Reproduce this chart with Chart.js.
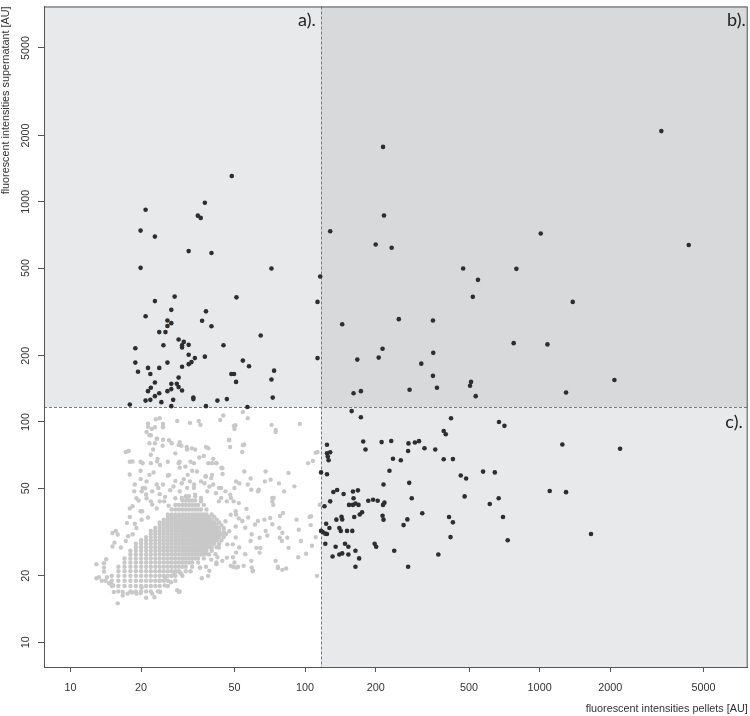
<!DOCTYPE html>
<html><head><meta charset="utf-8">
<script src="https://cdn.jsdelivr.net/npm/chart.js@4/dist/chart.umd.min.js"></script>
<style>html,body{margin:0;padding:0;background:#fff;}</style>
</head><body>
<canvas id="c" width="750" height="716" style="width:750px;height:716px;display:block"></canvas>
<script>
// ---- data ----
const xTicks = [10, 20, 50, 100, 200, 500, 1000, 2000, 5000];
const yTicks = [10, 20, 50, 100, 200, 500, 1000, 2000, 5000];
const axisMin = 7.71, axisMax = 7710;
const threshold = 116.7;
const quadLabels = ['a).', 'b).', 'c).'];
const xTitle = 'fluorescent intensities pellets [AU]';
const yTitle = 'fluorescent intensities supernatant [AU]';

// dark points, quadrant a (low pellet, high supernatant)
const quadA = [[48.7,1309],[37.4,990],[20.9,920],[34.9,865],[35.9,845],[19.9,740],[22.9,695],[31.9,597],[39.9,585],[19.9,501],[71.9,498],[116,458],[113,351],[27.8,371],[22.9,354],[51,368],[37.8,318],[26.9,323],[20.9,302],[25.9,289],[26.9,281],[25.9,273],[36.4,288],[39.9,272],[23.9,256],[25.4,256],[64.7,247],[28.9,237],[30.4,231],[29.9,223],[29.9,218],[31.9,224],[24.9,223],[18.9,216],[44.9,223],[31.9,202],[37.4,198],[113,195],[18.9,186],[25.9,186],[31.9,183],[32.8,187],[33.9,195],[54.3,190],[57.7,179],[21.4,176],[23.9,176],[29.9,178],[19.4,169],[21.9,165],[48.5,165],[49.8,165],[73.8,171],[28.9,159],[71.9,156],[50.8,152],[22.9,151],[26.9,149],[28.4,149],[22,143],[21.4,138],[23.9,135],[25.9,138],[26.9,141],[28.9,144],[29.9,139],[22.9,131],[20.9,125],[21.9,126],[27.4,126],[24.4,123],[33.4,129],[33.4,127],[42.3,125],[46.4,127],[72.8,129],[17.9,120],[26.9,118],[37.8,118],[56.8,117]];
// dark points, quadrant b (high pellet, high supernatant)
const quadB = [[3303,2094],[215,1775],[217,867],[128,735],[1011,718],[4322,636],[200,640],[234,618],[472,498],[796,496],[546,442],[519,370],[1384,351],[144,278],[251,293],[351,289],[775,228],[1080,225],[214,215],[167,192],[206,196],[352,206],[313,184],[351,162],[2084,155],[510,152],[505,146],[365,143],[279,140],[161,135],[173,138],[1296,136],[534,131]];
// dark points, quadrant c (high pellet, low supernatant)
const quadC = [[158,112],[173,105],[419,104],[671,100],[708,96],[390,91],[398,88],[124,78.8],[177,81.5],[212,81],[233,82],[276,79.9],[294,80.7],[306,81.8],[181,75],[275,73.8],[323,76],[359,75],[124,72],[128,72.8],[125,69.6],[126,67],[237,68.1],[256,67],[390,67.7],[427,67.8],[229,60],[117,59],[124,57.9],[574,59.5],[644,59],[461,57.1],[486,55.4],[278,52.9],[216,52],[1104,48.6],[132,48.1],[137,49.1],[146,47.1],[160,48.3],[168,48.9],[161,45],[479,45.9],[669,45],[285,45],[128,43.6],[121,41.4],[154,42],[160,42],[164,42.6],[169,42],[186,43.9],[195,44.3],[204,43.9],[218,43],[215,42],[613,42.4],[175,38.9],[171,38],[162,37],[143,37.1],[144,36.1],[136,36],[214,37.5],[216,36],[316,38.5],[411,37],[698,37],[427,35],[273,36.1],[263,34],[123,34.5],[127,33],[140,33],[142,32],[151,32],[159,32],[117,32],[119,31.6],[122,31.1],[124,31],[417,30],[731,29],[122,28],[148,28],[153,27.1],[135,27.1],[198,28],[201,27.1],[164,26],[240,26],[144,25.3],[140,25],[131,24.5],[153,25],[170,24],[370,25],[164,22],[275,22],[1250,79],[2203,75.6],[1296,48],[1656,31]];

// light grey points (below both thresholds): dense core rows [supernatant, pellet values]
const greyCoreRows = [
 [17,[16,18,19,20,21,22,24]],
 [18,[15,16,17,18,19,20,21,22,23,24,26]],
 [19,[15,16,17,18,19,20,21,22,23,24,25,26,28]],
 [20,[15,16,17,18,19,20,21,22,23,24,25,26,27,28,30]],
 [21,[16,17,18,19,20,21,22,23,24,25,26,27,28,29,31]],
 [22,[16,17,18,19,20,21,22,23,24,25,26,27,28,29,30,31,33]],
 [23,[17,18,19,20,21,22,23,24,25,26,27,28,29,30,31,32,33,35]],
 [24,[17,18,19,20,21,22,23,24,25,26,27,28,29,30,31,32,33,34,35,37]],
 [25,[18,19,20,21,22,23,24,25,26,27,28,29,30,31,32,33,34,35,36,37,39]],
 [26,[18,19,20,21,22,23,24,25,26,27,28,29,30,31,32,33,34,35,36,37,38,40]],
 [27,[19,20,21,22,23,24,25,26,27,28,29,30,31,32,33,34,35,36,37,38,39,40,42]],
 [28,[19,20,21,22,23,24,25,26,27,28,29,30,31,32,33,34,35,36,37,38,39,40,41,43]],
 [29,[20,21,22,23,24,25,26,27,28,29,30,31,32,33,34,35,36,37,38,39,40,41,42,44]],
 [30,[21,22,23,24,25,26,27,28,29,30,31,32,33,34,35,36,37,38,39,40,41,42,43,45]],
 [31,[22,23,24,25,26,27,28,29,30,31,32,33,34,35,36,37,38,39,40,41,42,43,44,46]],
 [32,[22,23,24,25,26,27,28,29,30,31,32,33,34,35,36,37,38,39,40,41,42,43,45]],
 [33,[23,24,25,26,27,28,29,30,31,32,33,34,35,36,37,38,39,40,41,42,43,45]],
 [34,[24,25,26,27,28,29,30,31,32,33,34,35,36,37,38,39,40,41,42,44]],
 [35,[24,25,26,27,28,29,30,31,32,33,34,35,36,37,38,39,40,41,43]],
 [36,[25,26,27,28,29,30,31,32,33,34,35,36,37,38,39,40,42]],
 [37,[26,27,28,29,30,31,32,33,34,35,36,37,38,39,41]],
 [38,[26,27,28,29,30,31,32,33,34,35,36,37,38,40]],
 [40,[27,28,29,30,31,32,33,34,35,36,38]],
 [42,[28,29,30,31,32,33,34,35,37]],
 [44,[30,31,32,33,34,36]],
 [46,[31,32,34]]
];
// light grey scattered points [pellet, supernatant]
const greyScatter = [[24,104],[23.1,103],[24.8,98],[21.4,95],[22.2,93],[21.1,90],[22,87],[23.3,84],[24.8,83],[21.7,80],[22.9,80],[24.7,78],[22.5,75],[22,71],[23.5,68],[22,65],[22.6,59],[28.5,101],[32.3,99],[35.2,101],[35.8,97],[43.5,102],[44.8,107],[49.7,96],[50,93],[54.3,111],[57,104],[72,97],[75,92],[95,98],[29.2,81],[29.7,78],[27,80],[31.4,75],[34,75],[38.7,76],[47.5,83],[47.9,77],[54,73],[55,79],[35.4,69],[37,70],[38.7,65],[40.6,68],[41.8,65],[44,62],[44.5,58],[28,72],[29.2,66],[32.5,66],[29.2,62],[33,60],[26,57],[28,54],[24.8,52],[24,47],[26.6,49],[30.4,55],[17.2,73],[17.9,66],[17.9,57.7],[19.9,66],[19.9,60],[18.8,52],[19.9,55],[20.8,50],[21.1,45],[19.5,44],[17.9,40.5],[17.9,37],[18.8,34.5],[20.2,39.3],[15.1,31.3],[15.9,30.8],[15.1,27.2],[12.9,22.6],[13.9,22.8],[13.2,19.7],[13.9,20.9],[14.1,19],[14.6,18.5],[15.2,18.1],[15.9,15],[15.3,16.9],[16.7,16.9],[16.7,16.3],[18.3,16.8],[19.9,16.7],[21,15.9],[22.8,16],[23.6,17],[25.2,18.1],[29,16.9],[24,19],[27.8,20.4],
[52.5,52.6],[57,52],[59,49.2],[63.5,49.2],[67.4,53.7],[71.3,54.7],[77.4,52.6],[81.4,48.4],[90,51],[85,58.7],[58.6,55.4],[56.3,40.3],[57.2,36.8],[61.2,34.2],[67.1,36],[71,36.6],[72.5,45.2],[73.2,42],[78.1,37.4],[80.5,38.6],[92,36],[104.6,37],[105.7,34],[94,32.4],[77.6,33],[80,31.4],[69,30.5],[64,29.8],[58.6,28.8],[64.5,26.8],[62,26.8],[59,23.4],[59.8,21],[54.7,22.2],[51.8,22],[49.3,24.3],[50.8,25.5],[78,29.8],[84,29.8],[79.7,28.8],[85,26.8],[96,28.8],[101,25.2],[93.5,24.3],[76.6,21.7],[80,21.3],[112.5,20],
[111,72.5],[108,66.5],[113,73],[103,65],[115.5,42.1],[106,37.3],[111,30],[107,27.4],
[83,21.6],[76.6,22],[60,21.1],[12.9,19.5],[29.2,17],[38.6,20],[36.3,19.5],[41.9,23],[49.3,22],[50,23],
[42.9,50.2],[45.8,48.4],[48,46.7],[46.4,43.6],[49.6,43.6],[42.9,43.6],[52.2,42.8],[50.6,39.3],[48.2,37.9],[52.2,36.5],[45.8,35.4],[50.6,33.5],[47.5,31.9],[44.4,30.9],[50.6,29.9],[46.6,27.8],[42.9,26.9],[41.5,25.1],[39.8,23.7],[37.8,22],[35.7,21.8],[32.5,21],[29.7,20.4],[26.8,18.7],[42.3,24.3],[44.4,23.4],[48.2,22.2],[37.8,25.2],[39.8,26.9],
[19.1,45.1],[20.1,48.4],[21.1,53.7],[23.3,52],[22,43.6],[23.3,40.5],[21.4,36.8],[20.1,36],[19.1,33],[18.4,30.9],[17.2,28.8],[16.4,26.9],[24,43.6],[25.3,45.7],[26.2,41.6],[28,45],[29.2,48.4],[31.4,50.2],[33.6,52],[36,53.7],[37.6,56.7],[39.8,55.6],[34,46.7],[31.4,45.2],[38.3,48.4],[40.6,52],[36,43.6],
[21.4,98.3],[22.9,94.6],[24.8,94.6],[21.7,87],[23.4,84],[26.3,82.6],[28.9,78.5],[31.3,77],[32.9,75.9],[37.8,77],[47.4,82.6],[54.3,78.5],[50.5,96.6],[17.7,73.8],[18.4,66.1],[20.3,64.9],[21.7,57.5],[23.4,66.1],[24.1,63.8],[26,66],[26.3,57.5],[28.9,65],[30.9,62.7],[31.6,57.5],[33.6,65],[34.6,59.6],[37.8,56.5],[40.1,65],[41.9,65],[40.1,57.5],[44.4,61.6],[50.8,53.7],[50,50.1],[48.3,45.2],[55.1,59.6],[63,48.4],[67.9,59.6],[72.5,43.6],[74.9,90],
[20.3,50.1],[18.7,48.4],[21,46.8],[22.3,48.4],[23.7,50.1],[25.1,43.6],[27.5,50.9],[29.8,52.7],[32.3,53.7],[33.6,50.1],[37.3,52.7],[39.1,50.9],[41.7,47.5],[43.9,50.1],[43.9,45.2],[36,45.2],[29.8,45.2],[22.3,42.2],[18.4,41.4],[19.9,39.3],[17.4,34.8],[15.6,32],[15.4,28.3],[17.6,30.3],[14.2,23.8],[13.9,21.8],[13.6,19],[14.3,19.7],[14.9,18.4],[17.5,16.6],[19.1,16.6],[20.1,17.7],[22.3,16.6],[24.1,16.9],[28.5,17.2],[25.3,19.7],[29.3,20.7],
[50.8,38],[54,35.5],[55.6,33.1],[59.2,30.9],[63,35.5],[67.9,32],[72.5,34.3],[49.2,27.8],[52.4,26.9],[55.6,25.1],[59.2,21.8],[50.8,21.8],[46.4,24.2],[41.9,22.6],[35.6,21.8],[39.1,21.1],[64,25.5],[74.9,23.4],[73.5,45.2]];

// ---- styling ----
const colA = '#e8e9eb', colB = '#d8d9db', colC = '#e8e9eb';
const darkCol = '#2e2e2e', greyCol = '#c8c8c8';
const axisCol = '#555555', textCol = '#333333';
const FONT = "'Liberation Sans', Arial, sans-serif";

const toPts = arr => arr.map(p => ({x: p[0], y: p[1]}));
const greyPts = [];
greyCoreRows.forEach(r => r[1].forEach(xv => greyPts.push({x: xv, y: r[0]})));
toPts(greyScatter).forEach(p => greyPts.push(p));
const darkPts = toPts(quadA).concat(toPts(quadB), toPts(quadC));

const quadPlugin = {
  id: 'quadrants',
  beforeDraw(chart) {
    const {ctx, chartArea: a, scales: {x, y}} = chart;
    const tx = x.getPixelForValue(threshold), ty = y.getPixelForValue(threshold);
    ctx.save();
    ctx.fillStyle = '#ffffff'; ctx.fillRect(0, 0, chart.width, chart.height);
    ctx.fillStyle = colA; ctx.fillRect(a.left, a.top, tx - a.left, ty - a.top);
    ctx.fillStyle = colB; ctx.fillRect(tx, a.top, a.right - tx, ty - a.top);
    ctx.fillStyle = colC; ctx.fillRect(tx, ty, a.right - tx, a.bottom - ty);
    ctx.restore();
  },
  beforeDatasetsDraw(chart) {
    const {ctx, chartArea: a, scales: {x, y}} = chart;
    const tx = Math.round(x.getPixelForValue(threshold)) + 0.5, ty = Math.round(y.getPixelForValue(threshold)) + 0.5;
    ctx.save();
    ctx.strokeStyle = '#7a7a7a'; ctx.lineWidth = 1; ctx.setLineDash([3, 2]);
    ctx.beginPath();
    ctx.moveTo(tx, a.top); ctx.lineTo(tx, a.bottom);
    ctx.moveTo(a.left, ty); ctx.lineTo(a.right, ty);
    ctx.stroke();
    ctx.restore();
  },
  afterDraw(chart) {
    const {ctx, chartArea: a, scales: {x, y}} = chart;
    const tx = x.getPixelForValue(threshold), ty = y.getPixelForValue(threshold);
    ctx.save();
    ctx.strokeStyle = axisCol; ctx.lineWidth = 1;
    ctx.strokeRect(a.left + 0.5, a.top + 0.5, a.right - a.left - 1, a.bottom - a.top);
    ctx.fillStyle = '#222';
    ctx.font = "18px Lato, 'Open Sans', sans-serif";
    ctx.textAlign = 'right'; ctx.textBaseline = 'alphabetic';
    ctx.fillText(quadLabels[0], tx - 5, a.top + 20);
    ctx.fillText(quadLabels[1], a.right - 2, a.top + 20);
    ctx.fillText(quadLabels[2], a.right - 5, ty + 21);
    ctx.restore();
  }
};

new Chart(document.getElementById('c'), {
  type: 'scatter',
  data: {
    datasets: [
      {label: 'below', data: greyPts, pointRadius: 2.2, pointBackgroundColor: greyCol, pointBorderWidth: 0, pointHoverRadius: 2.2},
      {label: 'above', data: darkPts, pointRadius: 2.3, pointBackgroundColor: darkCol, pointBorderWidth: 0, pointHoverRadius: 2.3}
    ]
  },
  options: {
    responsive: false,
    animation: false,
    events: [],
    layout: {padding: {left: 0, right: 2, top: 1, bottom: 0}},
    plugins: {legend: {display: false}, tooltip: {enabled: false}},
    scales: {
      x: {
        type: 'logarithmic', min: axisMin, max: axisMax,
        afterBuildTicks: s => { s.ticks = xTicks.map(v => ({value: v})); },
        afterFit: s => { s.height = 49; },
        grid: {display: true, drawOnChartArea: false, drawTicks: true, tickLength: 5, color: axisCol},
        border: {display: true, color: axisCol},
        ticks: {autoSkip: false, maxRotation: 0, minRotation: 0, padding: 10, color: textCol,
                font: {family: FONT, size: 10.8}, callback: v => String(v)},
        title: {display: true, text: xTitle, align: 'end', color: textCol,
                font: {family: FONT, size: 10.8}, padding: {top: 0, bottom: 0}}
      },
      y: {
        type: 'logarithmic', min: axisMin, max: axisMax,
        afterBuildTicks: s => { s.ticks = yTicks.map(v => ({value: v})); },
        afterFit: s => { s.width = 44; },
        grid: {display: true, drawOnChartArea: false, drawTicks: true, tickLength: 6, color: axisCol},
        border: {display: true, color: axisCol},
        ticks: {autoSkip: false, minRotation: 90, maxRotation: 90, crossAlign: 'center', padding: 0, color: textCol,
                font: {family: FONT, size: 10.8}, callback: v => String(v)},
        title: {display: true, text: yTitle, align: 'end', color: textCol,
                font: {family: FONT, size: 10.8}, padding: {top: 0, bottom: 0}}
      }
    }
  },
  plugins: [quadPlugin]
});
</script>
</body></html>
